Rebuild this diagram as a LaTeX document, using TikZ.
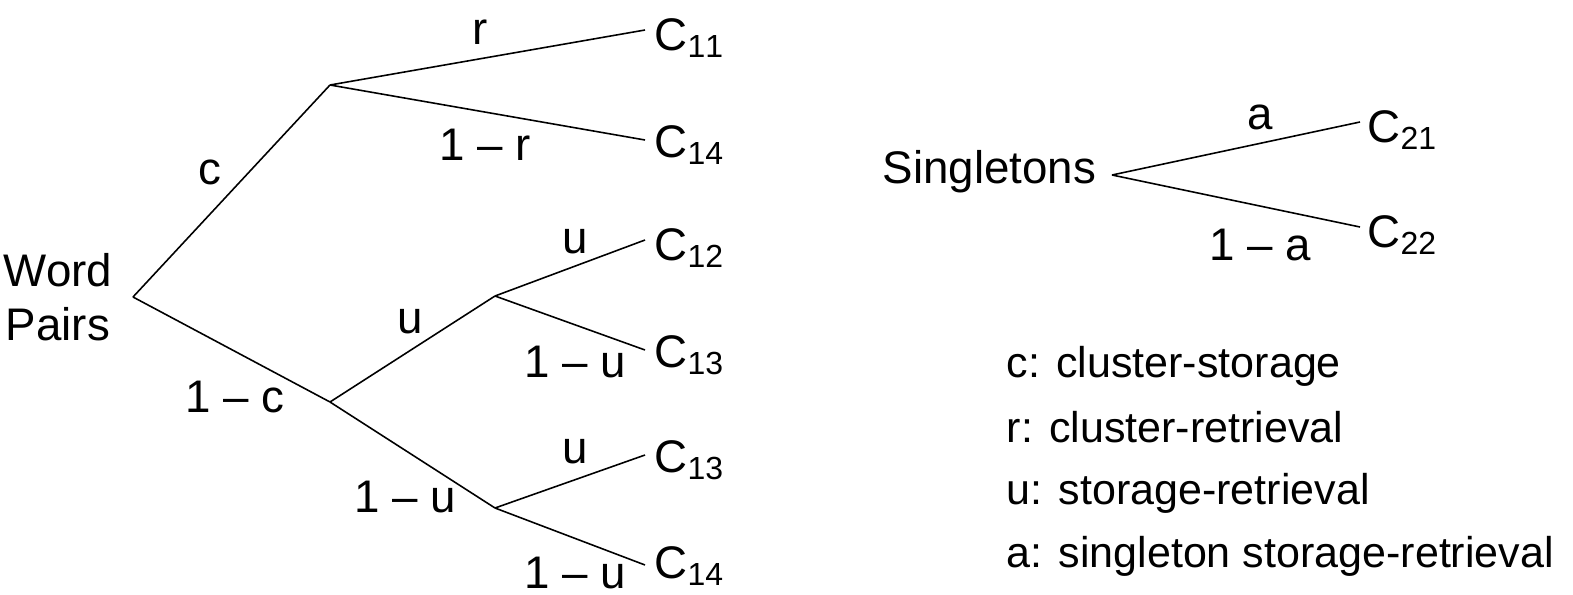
\documentclass[tikz,border=0pt]{standalone}
\usepackage{fontspec}
\setmainfont{Liberation Sans}
\usepackage{tikz}

\begin{document}
\begin{tikzpicture}[x=0.02cm,y=-0.02cm,line width=0.9pt,
  every node/.style={font=\fontsize{26}{31}\selectfont},
  leaf/.style={anchor=west,inner sep=1pt},
  lab/.style={inner sep=0pt},
  key/.style={inner sep=0pt,anchor=base west,font=\fontsize{24.5}{30}\selectfont}]
\useasboundingbox (0,0) rectangle (1573,595);

% word pairs tree
\node[align=center,lab] (wp) at (58,297) {Word\\Pairs};
\coordinate (root) at (133,297);
\coordinate (cl) at (330,85);
\coordinate (nc) at (330,402);
\coordinate (ua) at (495,296);
\coordinate (ub) at (495,508);

\node[leaf] (c11) at (652,38) {C$_{\mathrm{11}}$};
\node[leaf] (c14a) at (652,145) {C$_{\mathrm{14}}$};
\node[leaf] (c12) at (652,248) {C$_{\mathrm{12}}$};
\node[leaf] (c13a) at (652,355) {C$_{\mathrm{13}}$};
\node[leaf] (c13b) at (652,460) {C$_{\mathrm{13}}$};
\node[leaf] (c14b) at (652,566) {C$_{\mathrm{14}}$};

\draw (root) -- (cl);
\draw (root) -- (nc);
\draw (cl) -- (645,30);
\draw (cl) -- (645,140);
\draw (nc) -- (ua);
\draw (nc) -- (ub);
\draw (ua) -- (645,240);
\draw (ua) -- (645,350);
\draw (ub) -- (645,455);
\draw (ub) -- (645,565);

\node[lab] at (480,32) {r};
\node[lab] at (485,145) {1 -- r};
\node[lab] at (210,172) {c};
\node[lab] at (235,397) {1 -- c};
\node[lab] at (410,322) {u};
\node[lab] at (405,497) {1 -- u};
\node[lab] at (575,242) {u};
\node[lab] at (575,362) {1 -- u};
\node[lab] at (575,452) {u};
\node[lab] at (575,573) {1 -- u};

% singletons
\node[lab,anchor=east] (sg) at (1097,172) {Singletons};
\coordinate (sj) at (1112,175);
\node[leaf] (c21) at (1365,130) {C$_{\mathrm{21}}$};
\node[leaf] (c22) at (1365,235) {C$_{\mathrm{22}}$};
\draw (sj) -- (1360,122);
\draw (sj) -- (1360,227);
\node[lab] at (1260,117) {a};
\node[lab] at (1260,245) {1 -- a};

% legend
\foreach \y/\t in {377/c: cluster-storage,442/r: cluster-retrieval,504/u: storage-retrieval,567/a: singleton storage-retrieval}
  \node[key] at (1006,\y) {\t};
\end{tikzpicture}
\end{document}
